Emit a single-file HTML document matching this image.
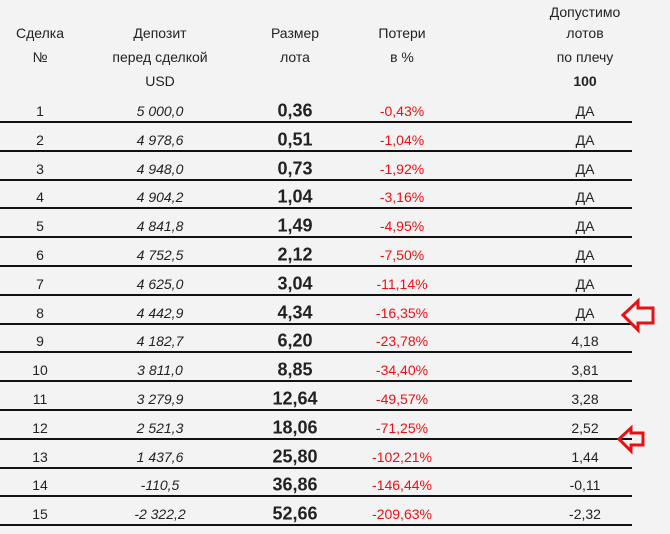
<!DOCTYPE html>
<html><head><meta charset="utf-8"><style>
body{margin:0;width:670px;height:534px;background:#f3f3f3;font-family:"Liberation Sans Narrow","Liberation Sans",sans-serif;color:#222;position:relative;overflow:hidden}
.t{position:absolute;transform:translate(-50%,-50%);white-space:nowrap;font-size:14px}
.i{font-style:italic}
.b{font-weight:bold;font-size:18px}
.r{color:#f01010}
.line{position:absolute;left:0;width:632px;height:2px;background:#111}
</style></head><body>
<div id="hdr">
<div class="t" style="left:585px;top:12px">Допустимо</div>
<div class="t" style="left:40px;top:33px">Сделка</div>
<div class="t" style="left:40px;top:57px">№</div>
<div class="t" style="left:160px;top:33px">Депозит</div>
<div class="t" style="left:160px;top:57px">перед сделкой</div>
<div class="t" style="left:160px;top:81px">USD</div>
<div class="t" style="left:295px;top:33px">Размер</div>
<div class="t" style="left:295px;top:57px">лота</div>
<div class="t" style="left:402px;top:33px">Потери</div>
<div class="t" style="left:402px;top:57px">в %</div>
<div class="t" style="left:585px;top:33px">лотов</div>
<div class="t" style="left:585px;top:57px">по плечу</div>
<div class="t" style="left:585px;top:81px;font-weight:bold">100</div>
</div>
<div id="rows"></div>
<svg style="position:absolute;left:0;top:0" width="670" height="534">
<polygon points="623,315 638,301 638,308 653,308 653,323 638,323 638,330" fill="none" stroke="#e81010" stroke-width="3"/>
<polygon points="619,439 631,428 631,433 643,433 643,445 631,445 631,451" fill="none" stroke="#e81010" stroke-width="3"/>
</svg>
<script>
const deposits=["5 000,0","4 978,6","4 948,0","4 904,2","4 841,8","4 752,5","4 625,0","4 442,9","4 182,7","3 811,0","3 279,9","2 521,3","1 437,6","-110,5","-2 322,2"];
const lots=["0,36","0,51","0,73","1,04","1,49","2,12","3,04","4,34","6,20","8,85","12,64","18,06","25,80","36,86","52,66"];
const losses=["-0,43%","-1,04%","-1,92%","-3,16%","-4,95%","-7,50%","-11,14%","-16,35%","-23,78%","-34,40%","-49,57%","-71,25%","-102,21%","-146,44%","-209,63%"];
const allowed=["ДА","ДА","ДА","ДА","ДА","ДА","ДА","ДА","4,18","3,81","3,28","2,52","1,44","-0,11","-2,32"];
const R=document.getElementById('rows');
const rowH=28.8, y0=111;
for(let i=0;i<deposits.length;i++){
  const y=y0+i*rowH;
  const row=document.createElement('div');
  
  
  const cells=[[40,String(i+1),''],[160,deposits[i],'i'],[295,lots[i],'b'],[402,losses[i],'r'],[585,allowed[i],'']];
  const names=['deal-number','deposit','lot-size','loss-percent','allowed-lots'];
  cells.forEach((c,k)=>{
    const d=document.createElement('div');
    d.className='t '+c[2];
    d.style.left=c[0]+'px';d.style.top=y+'px';
    d.textContent=c[1];
    
    
    row.appendChild(d);
  });
  const l=document.createElement('div');
  l.className='line';l.style.top=(y+10)+'px';
  
  
  row.appendChild(l);
  R.appendChild(row);
}
</script>
</body></html>
